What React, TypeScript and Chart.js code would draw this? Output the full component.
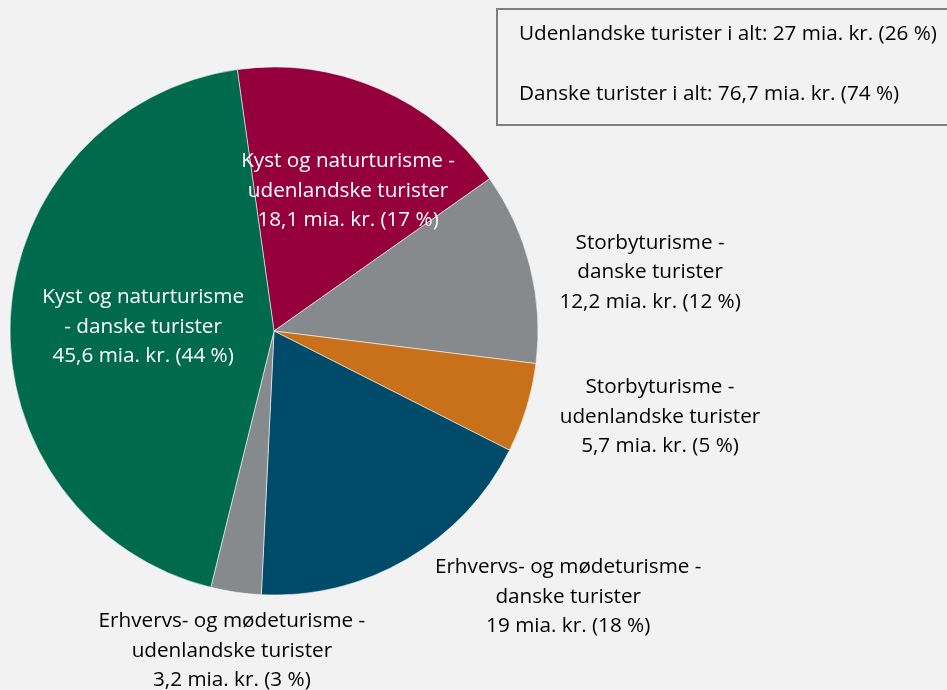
import React, { useEffect, useRef } from "react";
import { Chart, registerables } from "chart.js";

Chart.register(...registerables);

// ---- Data ----
const categories = [
  "Kyst og naturturisme - udenlandske turister",
  "Storbyturisme - danske turister",
  "Storbyturisme - udenlandske turister",
  "Erhvervs- og mødeturisme - danske turister",
  "Erhvervs- og mødeturisme - udenlandske turister",
  "Kyst og naturturisme - danske turister",
];
const nameLines = [
  ["Kyst og naturturisme -", "udenlandske turister"],
  ["Storbyturisme -", "danske turister"],
  ["Storbyturisme -", "udenlandske turister"],
  ["Erhvervs- og mødeturisme -", "danske turister"],
  ["Erhvervs- og mødeturisme -", "udenlandske turister"],
  ["Kyst og naturturisme", "- danske turister"],
];
const values = [18.1, 12.2, 5.7, 19, 3.2, 45.6];
const shares = [17, 12, 5, 18, 3, 44];
const colors = ["#95003C", "#868A8D", "#C8711A", "#004A6A", "#868A8D", "#006B4C"];
const labelColors = ["#ffffff", "#000000", "#000000", "#000000", "#000000", "#ffffff"];

const totalNames = ["Udenlandske turister i alt", "Danske turister i alt"];
const totalValues = ["27", "76,7"];
const totalShares = [26, 74];

// label placement relative to each slice: radius factor and angle nudge (deg)
const labelRadius = [0.6, 1.442, 1.498, 1.502, 1.222, 0.496];
const labelAngleNudge = [4.5, 5.2, -4.4, -17.7, -0.8, -1.2];

const FONT_FAMILY = "'Open Sans', sans-serif";
const FONT_SIZE = 20.7;
const LINE_H = 29.5;

const fmt = (v: number) => String(v).replace(".", ",");

const labelsPlugin = {
  id: "customLabels",
  afterDraw(chart: any) {
    const ctx = chart.ctx;
    const meta = chart.getDatasetMeta(0);
    ctx.save();
    ctx.font = `${FONT_SIZE}px ${FONT_FAMILY}`;
    ctx.textAlign = "center";
    ctx.textBaseline = "middle";
    meta.data.forEach((arc: any, i: number) => {
      const p = arc.getProps(["x", "y", "startAngle", "endAngle", "outerRadius"], true);
      const mid = (p.startAngle + p.endAngle) / 2 + (labelAngleNudge[i] * Math.PI) / 180;
      const r = p.outerRadius * labelRadius[i];
      const cx = p.x + Math.cos(mid) * r;
      const cy = p.y + Math.sin(mid) * r;
      const lines = [...nameLines[i], `${fmt(values[i])} mia. kr. (${shares[i]} %)`];
      ctx.fillStyle = labelColors[i];
      lines.forEach((ln, j) => {
        ctx.fillText(ln, cx, cy + (j - 1) * LINE_H);
      });
    });

    // totals box
    ctx.strokeStyle = "#7f7f7f";
    ctx.lineWidth = 2;
    ctx.strokeRect(497, 9, 470, 116);
    ctx.fillStyle = "#000000";
    ctx.textAlign = "left";
    totalNames.forEach((n, i) => {
      ctx.fillText(`${n}: ${totalValues[i]} mia. kr. (${totalShares[i]} %)`, 519, 34 + i * 60);
    });
    ctx.restore();
  },
};

export default function App() {
  const ref = useRef<HTMLCanvasElement | null>(null);
  useEffect(() => {
    document.body.style.margin = "0";
    document.body.style.background = "#f2f2f2";
    if (!ref.current) return;
    const chart = new Chart(ref.current, {
      type: "pie",
      data: {
        labels: categories,
        datasets: [
          {
            data: values,
            backgroundColor: colors,
            borderColor: "rgba(255,255,255,0.55)",
            borderWidth: 1,
            hoverOffset: 0,
            offset: 0,
          },
        ],
      },
      options: {
        animation: false,
        responsive: false,
        events: [],
        rotation: -8,
        radius: 264,
        layout: { padding: { left: 10, right: 409, top: 67, bottom: 95 } },
        plugins: { legend: { display: false }, tooltip: { enabled: false } },
      },
      plugins: [labelsPlugin],
    });
    return () => chart.destroy();
  }, []);
  return (
    <div style={{ width: 947, height: 690, background: "#f2f2f2" }}>
      <canvas ref={ref} width={947} height={690} style={{ display: "block" }} />
    </div>
  );
}
